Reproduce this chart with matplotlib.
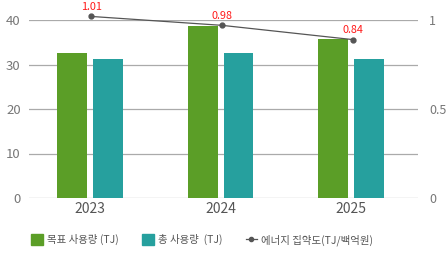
import matplotlib
matplotlib.use("Agg")
import matplotlib.pyplot as plt
from matplotlib.patches import Patch
from matplotlib.lines import Line2D
import numpy as np

plt.rcParams['font.family'] = ['Noto Sans CJK KR', 'DejaVu Sans']
plt.rcParams['font.weight'] = 'light'

years = ['2023', '2024', '2025']
target_use = [32.6, 38.7, 35.7]
total_use = [31.2, 32.6, 31.2]
intensity = [1.02, 0.97, 0.89]          # plotted positions
intensity_labels = ['1.01', '0.98', '0.84']
left_ticks = [0, 10, 20, 30, 40]
right_ticks = [0, 0.5, 1]
right_tick_labels = ['0', '0.5', '1']

green = '#5b9e27'
teal = '#26a09e'
grid_c = '#aaaaaa'
tick_c = '#777777'

fig = plt.figure(figsize=(4.47, 2.67), dpi=100)
ax = fig.add_axes([29/447, 69/267, 389/447, 178/267])
x = np.arange(len(years))
w = 0.229
off = 0.137
ax.bar(x - off, target_use, w, color=green, zorder=2)
ax.bar(x + off, total_use, w, color=teal, zorder=2)
ax.set_xlim(-0.466, 2.51)
ax.set_ylim(0, 40)
ax.set_yticks(left_ticks)
ax.grid(axis='y', color=grid_c, linewidth=0.9, zorder=0)
ax.set_xticks(x)
ax.set_xticklabels(years, fontsize=10, color='#555555')
ax.tick_params(axis='y', length=0, labelsize=9.5, labelcolor=tick_c, pad=6)
ax.tick_params(axis='x', length=0, pad=3)
for s in ax.spines.values():
    s.set_visible(False)

ax2 = ax.twinx()
ax2.set_ylim(0, 1)
ax2.set_yticks(right_ticks)
ax2.set_yticklabels(right_tick_labels)
ax2.tick_params(axis='y', length=0, labelsize=9, labelcolor=tick_c, pad=8)
for s in ax2.spines.values():
    s.set_visible(False)
ax2.plot(x + 0.01, intensity, color='#555555', linewidth=0.9, marker='o',
         markersize=3.5, clip_on=False, zorder=5)
for xi, yi, lab in zip(x, intensity, intensity_labels):
    ax2.annotate(lab, (xi + 0.01, yi), xytext=(0, 3), textcoords='offset points',
                 ha='center', va='bottom', color='#ff1a1a', fontsize=7.8,
                 annotation_clip=False)

handles = [Patch(color=green), Patch(color=teal),
           Line2D([0], [0], color='#555555', marker='o', markersize=3, linewidth=0.9)]
labels = ['목표 사용량 (TJ)', '총 사용량  (TJ)', '에너지 집약도(TJ/백억원)']
fig.legend(handles, labels, ncol=3, loc='center left', bbox_to_anchor=(22/447, 1 - 240/267),
           frameon=False, fontsize=7.5, labelcolor='#555555', handlelength=1.1,
           handleheight=1.2, handletextpad=0.4, columnspacing=2.25)

fig.savefig('out.png', dpi=100)
